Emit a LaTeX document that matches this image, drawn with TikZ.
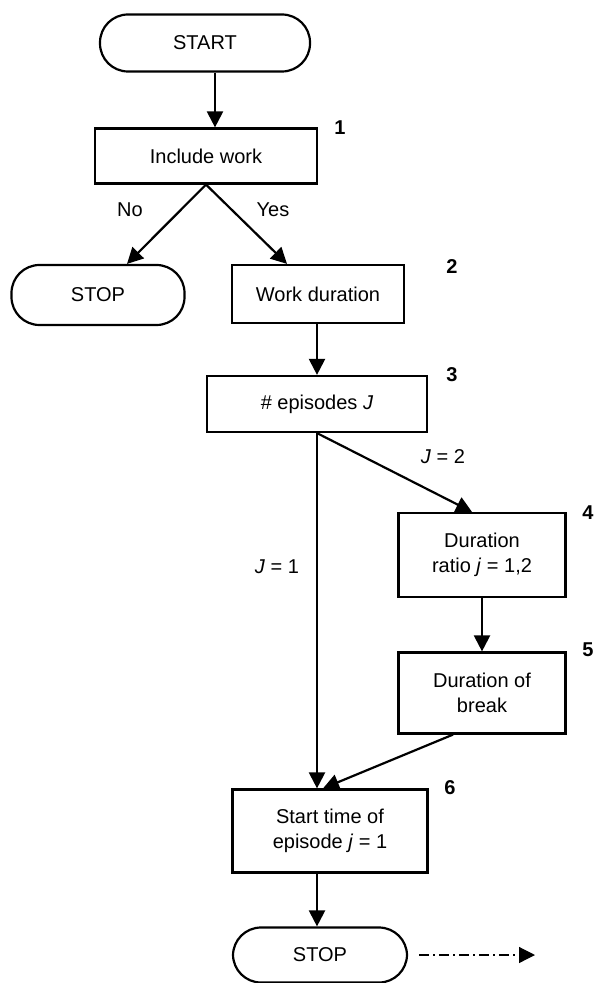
\documentclass[tikz,border=0pt]{standalone}
\usepackage{fontspec}
\setmainfont{Liberation Sans}
\usetikzlibrary{positioning}
\usetikzlibrary{calc}
\usetikzlibrary{arrows.meta}

\begin{document}
\begin{tikzpicture}[x=0.5pt, y=-0.5pt, line width=1.1pt,
  box/.style={draw, rectangle, align=center, inner sep=0pt, font=\fontsize{10}{12.5}\selectfont},
  pill/.style={box, rounded corners=14pt},
  num/.style={font=\fontsize{10}{12}\selectfont\bfseries},
  lbl/.style={font=\fontsize{10}{12}\selectfont},
  flow/.style={-{Triangle[length=8pt,width=8pt]}}]
\useasboundingbox (0,0) rectangle (595,983);

\node[pill, minimum width=105pt, minimum height=28.5pt] (start) at (205, 43) {START};
\node[box, minimum width=111pt, minimum height=27.5pt] (inc) at (206, 156) {Include work};
\node[pill, minimum width=86.5pt, minimum height=30pt] (stopa) at (98, 295) {STOP};
\node[box, minimum width=86pt, minimum height=29pt] (work) at (318, 294) {Work duration};
\node[box, minimum width=110pt, minimum height=28pt] (epi) at (317, 404) {\# episodes \textit{J}};
\node[box, minimum width=83.5pt, minimum height=42pt] (ratio) at (482, 555) {Duration\\ratio \textit{j} = 1,2};
\node[box, minimum width=83.5pt, minimum height=40.5pt] (brk) at (482, 693) {Duration of\\break};
\node[box, minimum width=97.5pt, minimum height=41.5pt] (st) at (330, 831) {Start time of\\episode \textit{j} = 1};
\node[pill, minimum width=87pt, minimum height=27.5pt] (stopb) at (320, 955) {STOP};
\coordinate (out) at (535, 955);

\node[num] (n1) at (340, 128) {1};
\node[num] (n2) at (452, 267) {2};
\node[num] (n3) at (452, 375) {3};
\node[num] (n4) at (588, 513) {4};
\node[num] (n5) at (588, 650) {5};
\node[num] (n6) at (450, 788) {6};

\node[lbl] (no) at (130, 210) {No};
\node[lbl] (yes) at (273, 210) {Yes};
\node[lbl] (j2) at (443, 457) {\textit{J} = 2};
\node[lbl] (j1) at (277, 567) {\textit{J} = 1};

\draw[flow] ([xshift=5pt]start.south) -- ([xshift=5pt]start.south |- inc.north);
\draw[flow] (inc.south) -- ([xshift=14.5pt]stopa.north);
\draw[flow] (inc.south) -- ([xshift=-15.5pt]work.north);
\draw[flow] (work.south -| epi.north) -- (epi.north);
\draw[flow] (epi.south) -- ([xshift=-5pt]ratio.north);
\draw[flow] (ratio) -- (brk);
\draw[flow] (epi.south) -- (epi.south |- st.north);
\draw[flow] ([xshift=-14.5pt]brk.south) -- ([xshift=-3.5pt]st.north);
\draw[flow] (st.south -| epi.south) -- (stopb.north -| epi.south);
\draw[-{Triangle[length=8pt,width=8pt]}, line width=0.6pt, dash pattern=on 5pt off 2pt on 1pt off 2pt] ([xshift=5.5pt]stopb.east) -- (out);
\end{tikzpicture}
\end{document}
